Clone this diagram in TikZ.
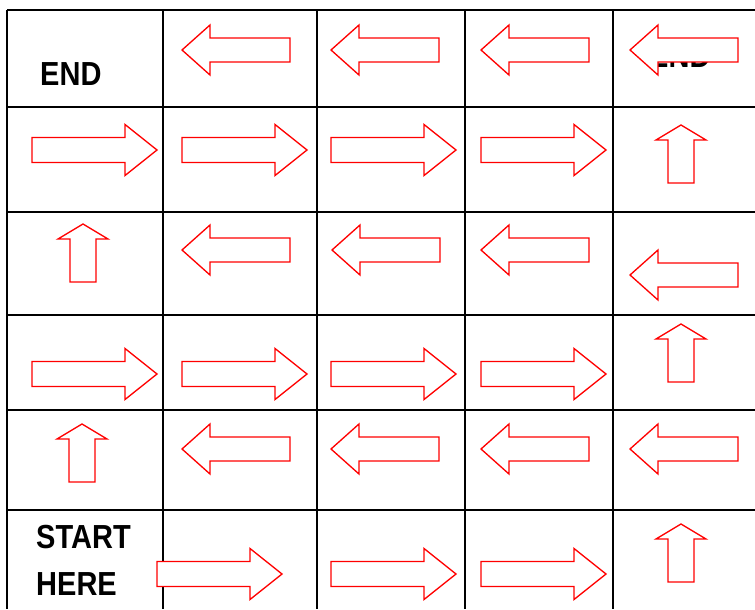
\documentclass[tikz,border=0pt]{standalone}
\usepackage{fontspec}
\setmainfont{Liberation Sans}
\begin{document}
\begin{tikzpicture}[x=0.75pt,y=-0.75pt,
  gridline/.style={line width=1.8pt,black},
  arrowsty/.style={draw=red,fill=white,line width=1pt,line join=miter},
  label/.style={inner sep=0pt,anchor=base west,xscale=0.87,
    font=\fontsize{25pt}{25pt}\selectfont\bfseries},
  larrow/.pic={\path[arrowsty] (0,0) -- (28,-25) -- (28,-12) -- (108,-12) -- (108,12) -- (28,12) -- (28,25) -- cycle;},
  rarrow/.pic={\path[arrowsty] (0,-12.5) -- (93,-12.5) -- (93,-25.5) -- (125,0) -- (93,25.5) -- (93,12.5) -- (0,12.5) -- cycle;},
  uarrow/.pic={\path[arrowsty] (0,0) -- (25,15) -- (13,15) -- (13,58) -- (-13,58) -- (-13,15) -- (-25,15) -- cycle;}
]
\useasboundingbox[fill=white] (0,0) rectangle (755,609);
% grid
\foreach \yy in {10,107,212,315,410,510} \draw[gridline] (7,\yy) -- (755,\yy);
\foreach \xx in {7,163,317,465,613} \draw[gridline] (\xx,10) -- (\xx,609);
% texts
\node[label] (end) at (40,86) {END};
\node[label] (endhidden) at (649,68) {END};
\node[label] (start) at (36,548) {START};
\node[label] (here) at (36,595) {HERE};
% row 1
\foreach \xx in {182,331,481,630} \pic at (\xx,50) {larrow};
% row 2
\foreach \xx in {32,182,331,481} \pic at (\xx,150) {rarrow};
\pic at (681,125) {uarrow};
% row 3
\pic at (83,224) {uarrow};
\foreach \xx in {182,332,481} \pic at (\xx,250) {larrow};
\pic at (630,275) {larrow};
% row 4
\foreach \xx in {32,182,331,481} \pic at (\xx,374) {rarrow};
\pic at (681,324) {uarrow};
% row 5
\pic at (82,424) {uarrow};
\foreach \xx in {182,331,481,630} \pic at (\xx,449) {larrow};
% row 6
\pic at (157,574) {rarrow};
\pic at (331,574) {rarrow};
\pic at (481,574) {rarrow};
\pic at (681,524) {uarrow};
\end{tikzpicture}
\end{document}
